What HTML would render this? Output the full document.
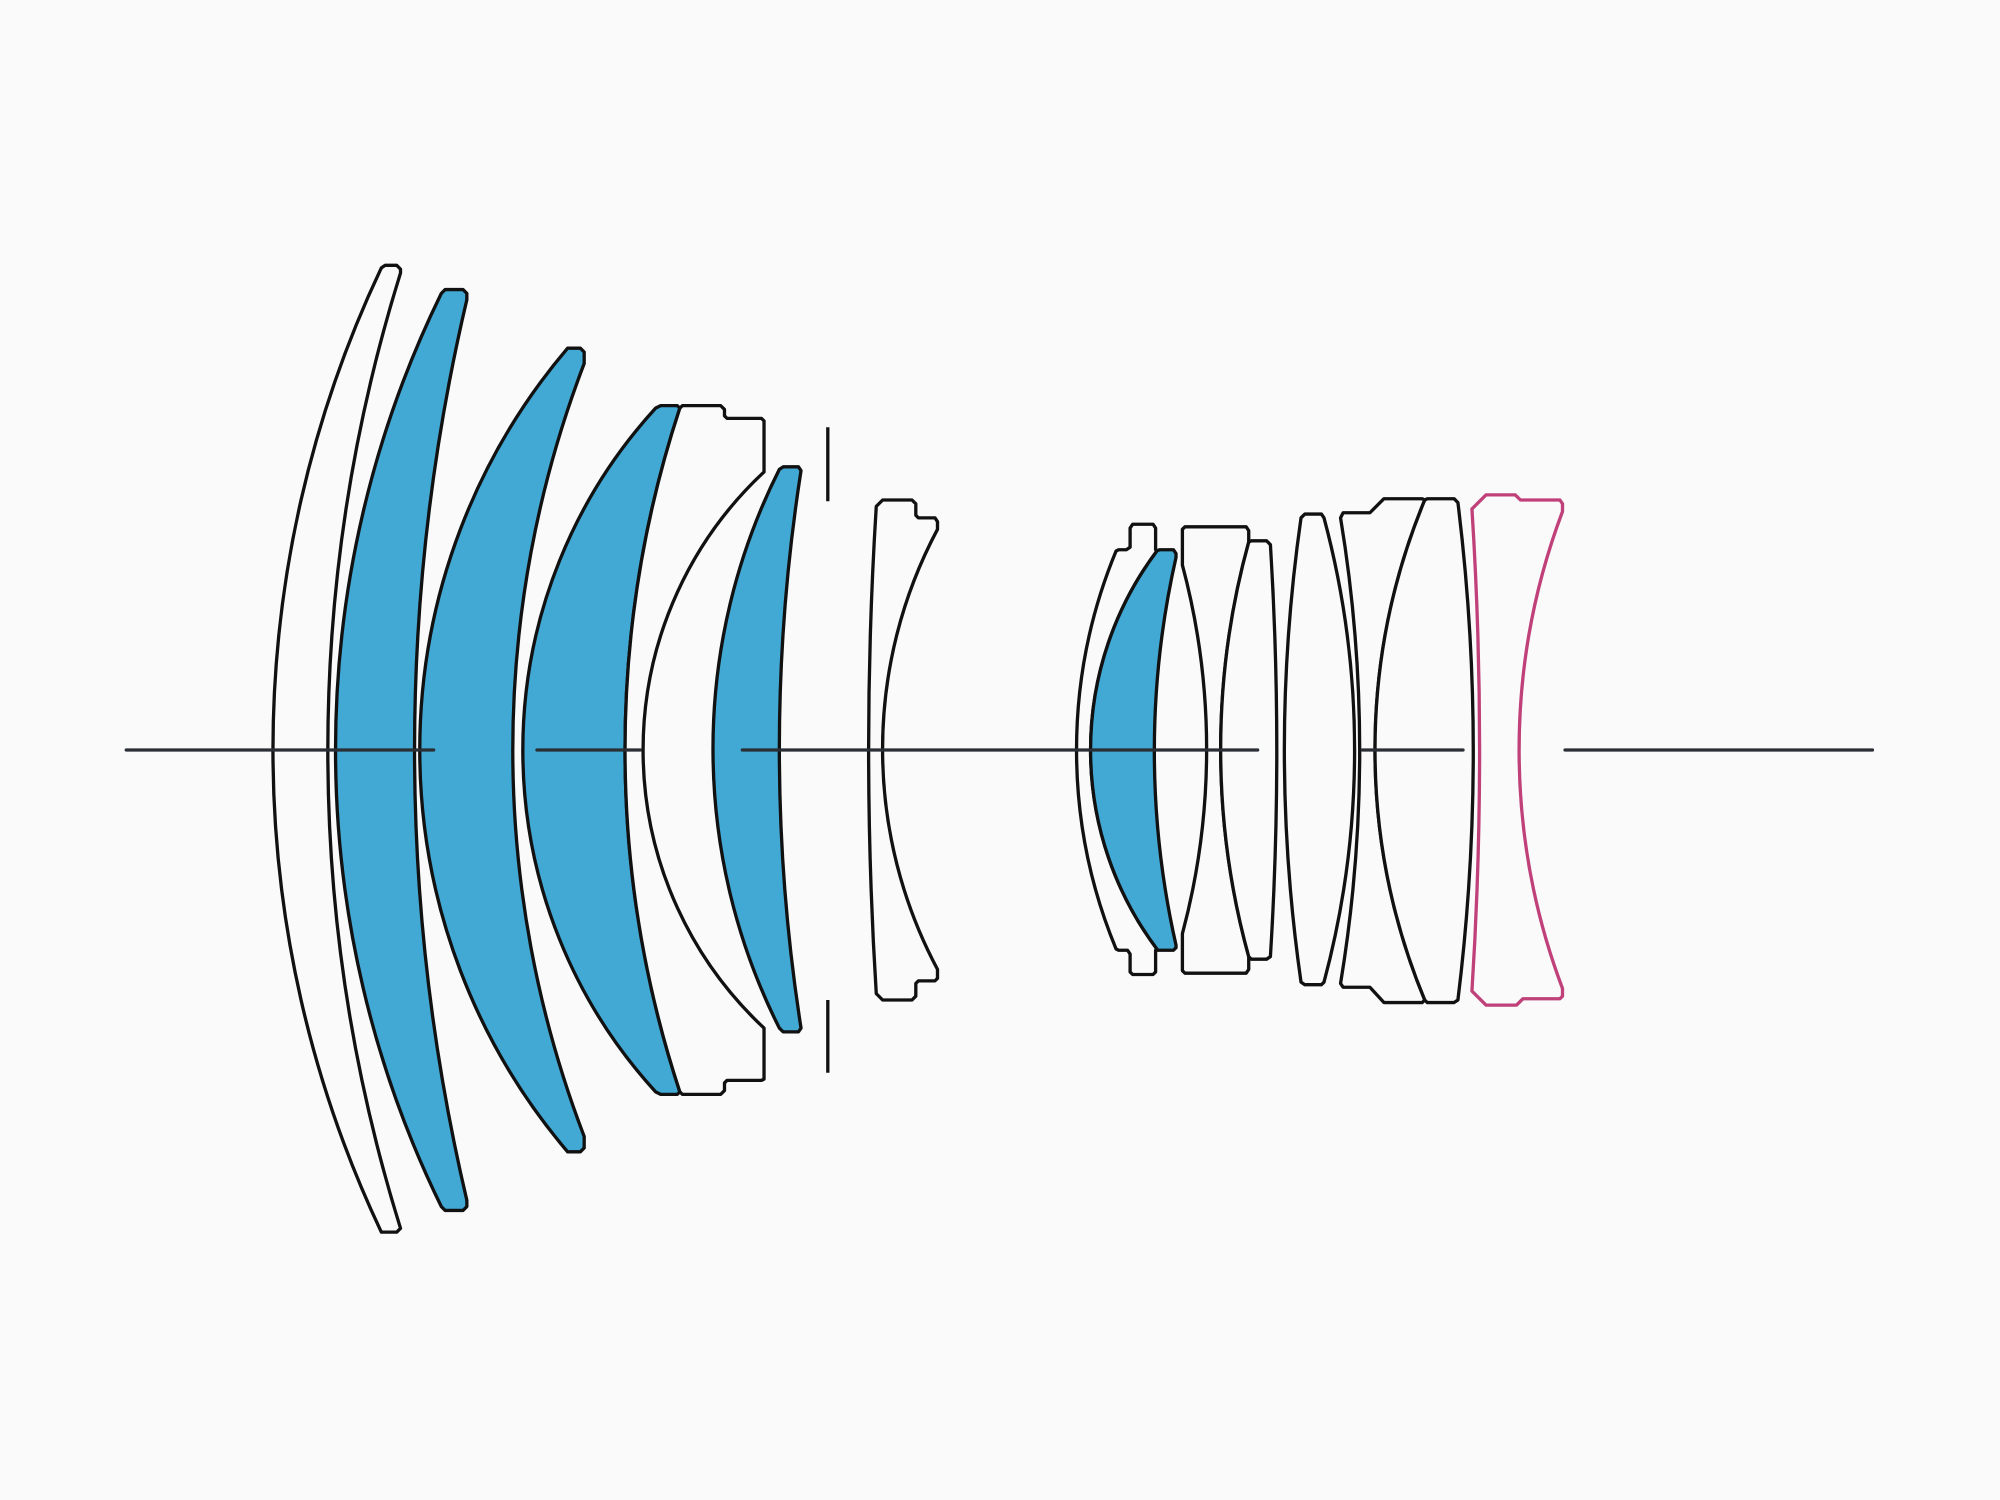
<!DOCTYPE html>
<html><head><meta charset="utf-8"><style>html,body{margin:0;padding:0;background:#fafafa}svg{display:block}</style></head>
<body>
<svg width="2000" height="1500" viewBox="0 0 1568 1176" xmlns="http://www.w3.org/2000/svg">
<rect width="1568" height="1176" fill="#fafafa"/>
<g stroke="#111" stroke-width="2.6" stroke-linejoin="round" fill="none">
<path d="M299,210 L302,208 L311,208 L314,211 L314,214 A1259,1259 0 0 0 314,963 L311,966 L302,966 L299,966 A883,883 0 0 1 299,210 Z" fill="#fafafa"/>
<path d="M346,230 L349,227 L363,227 L366,230 L366,235 A1540,1540 0 0 0 366,941 L366,946 L363,949 L349,949 L346,946 A814,814 0 0 1 346,230 Z" fill="#42a8d4"/>
<path d="M445,273 L455,273 L458,276 L458,285 A848,848 0 0 0 458,891 L458,900 L455,903 L445,903 A486,486 0 0 1 445,273 Z" fill="#42a8d4"/>
<path d="M514,320 L518,318 L531,318 L533,320 A857,857 0 0 0 533,856 L531,858 L518,858 L514,856 A397,397 0 0 1 514,320 Z" fill="#42a8d4"/>
<path d="M533,320 L535,318 L565,318 L568,321 L568,326 L570,328 L597,328 L599,330 L599,370 A298,298 0 0 0 599,806 L599,846 L597,847 L570,847 L568,849 L568,855 L565,858 L535,858 L533,856 A857,857 0 0 1 533,320 Z" fill="#fafafa"/>
<path d="M611,368 L614,366 L626,366 L628,369 A1413,1413 0 0 0 628,806 L626,809 L614,809 L611,806 A487,487 0 0 1 611,368 Z" fill="#42a8d4"/>
<path d="M649,335 L649,393 M649,784 L649,841"/>
<path d="M687,397 L692,392 L715,392 L718,395 L718,404 L720,406 L733,406 L735,409 L735,415 A367,367 0 0 0 735,760 L735,767 L733,769 L720,769 L718,771 L718,781 L715,784 L692,784 L687,779 A3043,3043 0 0 1 687,397 Z" fill="#fafafa"/>
<path d="M875,432 L877,431 L883,431 L886,429 L886,414 L888,411 L904,411 L906,414 L906,431 L907,432 A260,260 0 0 0 907,744 L906,745 L906,762 L904,764 L888,764 L886,762 L886,748 L884,745 L877,745 L875,744 A408,408 0 0 1 875,432 Z" fill="#fafafa"/>
<path d="M907,432 L909,431 L920,431 L922,434 L922,437 A688,688 0 0 0 922,741 L922,743 L920,745 L907,745 L907,744 A260,260 0 0 1 907,432 Z" fill="#42a8d4"/>
<path d="M927,443 L927,415 L929,413 L977,413 L979,416 L979,425 A611,611 0 0 0 979,750 L979,760 L977,763 L929,763 L927,761 L927,732 A559,559 0 0 0 927,443 Z" fill="#fafafa"/>
<path d="M979,425 L981,424 L993,424 L996,427 A2611,2611 0 0 1 996,750 L993,752 L981,752 L979,750 A611,611 0 0 1 979,425 Z" fill="#fafafa"/>
<path d="M1020,406 L1023,403 L1036,403 L1038,406 A702,702 0 0 1 1038,770 L1036,772 L1023,772 L1020,770 A1280,1280 0 0 1 1020,406 Z" fill="#fafafa"/>
<path d="M1051,406 L1053,402 L1074,402 L1085,391 L1115,391 L1117,392 A512,512 0 0 0 1117,784 L1115,786 L1085,786 L1074,774 L1053,774 L1051,771 A1118,1118 0 0 0 1051,406 Z" fill="#fafafa"/>
<path d="M1117,392 L1119,391 L1140,391 L1143,394 A1590,1590 0 0 1 1143,784 L1140,786 L1119,786 L1117,784 A512,512 0 0 1 1117,392 Z" fill="#fafafa"/>
</g>
<path d="M1154,399 L1165,388 L1188,388 L1192,392 L1223,392 L1225,395 L1225,401 A531,531 0 0 0 1225,775 L1225,781 L1223,783 L1194,783 L1189,788 L1165,788 L1154,777 A2980,2980 0 0 0 1154,399 Z" fill="#fafafa" stroke="#c0417a" stroke-width="2.6" stroke-linejoin="round"/>
<g stroke="#2a2f35" stroke-width="2.6" stroke-linecap="round">
<line x1="99" y1="588" x2="340" y2="588"/>
<line x1="421" y1="588" x2="502" y2="588"/>
<line x1="582" y1="588" x2="986" y2="588"/>
<line x1="1068" y1="588" x2="1147" y2="588"/>
<line x1="1227" y1="588" x2="1468" y2="588"/>
</g>
</svg>
</body></html>
